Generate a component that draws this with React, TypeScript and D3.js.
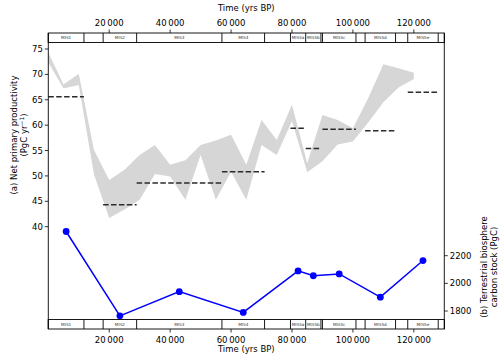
import React from "react";
import * as d3 from "d3";

// marine isotope stages (boxes along top and bottom)
const stageNames = ["MIS1", "MIS2", "MIS3", "MIS4", "MIS5a", "MIS5b", "MIS5c", "MIS5d", "MIS5e"];
const stageStart = [0, 18000, 29000, 57000, 79500, 84500, 90000, 104000, 118000];
const stageEnd = [11700, 29000, 57000, 71000, 84500, 89500, 101000, 114000, 128000];
const stageBounds = [0, 11700, 18000, 29000, 57000, 71000, 79500, 84500, 89500, 90000, 101000, 104000, 114000, 118000, 128000, 130000];

// mean NPP per stage (dashed lines)
const stageNpp = [65.6, 44.3, 48.6, 50.8, 59.4, 55.4, 59.2, 58.9, 66.5];

// carbon stock per stage (blue line)
const stockAge = [5850, 23500, 43000, 64000, 82000, 87000, 95500, 109000, 123000];
const stockValue = [2375, 1765, 1940, 1790, 2090, 2055, 2068, 1900, 2165];

// NPP range (grey band)
const bandAge = [0, 5000, 10000, 15000, 20000, 25000, 30000, 35000, 40000, 45000, 50000, 55000, 60000,
  65000, 70000, 75000, 80000, 85000, 90000, 95000, 100000, 105000, 110000, 115000, 120000];
const nppHigh = [74.3, 68.0, 70.1, 55.1, 49.2, 51.2, 54.1, 56.1, 52.2, 53.1, 56.1, 57.0, 58.1,
  52.2, 61.0, 57.1, 64.0, 52.5, 62.0, 61.0, 59.4, 65.3, 72.0, 71.2, 70.3];
const nppLow = [72.4, 67.2, 67.9, 50.3, 41.7, 43.4, 45.3, 50.4, 49.9, 45.3, 54.1, 45.3, 50.8,
  45.3, 56.1, 54.1, 60.8, 50.7, 52.9, 56.2, 56.8, 60.5, 64.5, 67.4, 69.1];

const timeTicks = [20000, 40000, 60000, 80000, 100000, 120000];
const nppTicks = [40, 45, 50, 55, 60, 65, 70, 75];
const stockTicks = [1800, 2000, 2200];

const W = 500, H = 359;
const top = 33, bottom = 329, left = 48.3, right = 444.3;
const stripH = 9.5;
const font = "DejaVu Sans, sans-serif";

export default function App() {
  const x = d3.scaleLinear().domain([0, 130000]).range([left, right]);
  const yL = d3.scaleLinear().domain([19.85, 78.15]).range([bottom, top]);
  const yR = d3.scaleLinear().domain([1670, 3810]).range([bottom, top]);

  const fmt = d3.formatLocale({ decimal: ".", thousands: "\u2009", grouping: [3], currency: ["", ""] }).format(",");

  const band = d3.area<number>()
    .x((d) => x(bandAge[d]))
    .y0((d) => yL(nppLow[d]))
    .y1((d) => yL(nppHigh[d]));
  const line = d3.line<number>()
    .x((d) => x(stockAge[d]))
    .y((d) => yR(stockValue[d]));
  const idx = (n: number) => d3.range(n);

  const strip = (y0: number, key: string) => (
    <g key={key}>
      <rect x={left} y={y0} width={right - left} height={stripH} fill="white" stroke="black" strokeWidth={0.9} />
      {stageBounds.map((b, i) => (
        <line key={i} x1={x(b)} x2={x(b)} y1={y0} y2={y0 + stripH} stroke="black" strokeWidth={0.9} />
      ))}
      {stageNames.map((s, i) => (
        <text key={s} x={x((stageStart[i] + stageEnd[i]) / 2)} y={y0 + stripH / 2} dy="0.35em"
          textAnchor="middle" fontSize={4.2} fill="#333">{s}</text>
      ))}
    </g>
  );

  return (
    <svg width={W} height={H} style={{ position: "absolute", left: 0, top: 0, background: "white" }}
      fontFamily={font}>
      <path d={band(idx(bandAge.length)) || ""} fill="#d6d6d6" />
      {stageNames.map((s, i) => (
        <line key={s} x1={x(stageStart[i])} x2={x(stageEnd[i])} y1={yL(stageNpp[i])} y2={yL(stageNpp[i])}
          stroke="#2b2b2b" strokeWidth={1.5} strokeDasharray="5.5,2.4" />
      ))}
      <path d={line(idx(stockAge.length)) || ""} fill="none" stroke="#0000ff" strokeWidth={1.5} />
      {stockAge.map((a, i) => (
        <circle key={i} cx={x(a)} cy={yR(stockValue[i])} r={3.4} fill="#0000ff" />
      ))}

      {/* spines */}
      <line x1={left} x2={left} y1={top} y2={bottom} stroke="black" strokeWidth={0.9} />
      <line x1={right} x2={right} y1={top} y2={bottom} stroke="black" strokeWidth={0.9} />
      {strip(top, "t")}
      {strip(bottom - stripH, "b")}

      {/* time axes */}
      {timeTicks.map((t) => (
        <g key={t}>
          <line x1={x(t)} x2={x(t)} y1={top} y2={top - 3.5} stroke="black" strokeWidth={0.8} />
          <text x={x(t)} y={25.5} textAnchor="middle" fontSize={8.5}>{fmt(t)}</text>
          <line x1={x(t)} x2={x(t)} y1={bottom} y2={bottom + 3.5} stroke="black" strokeWidth={0.8} />
          <text x={x(t)} y={342.5} textAnchor="middle" fontSize={8.5}>{fmt(t)}</text>
        </g>
      ))}
      <text x={(left + right) / 2} y={10.5} textAnchor="middle" fontSize={8.5}>Time (yrs BP)</text>
      <text x={(left + right) / 2} y={352} textAnchor="middle" fontSize={8.5}>Time (yrs BP)</text>

      {/* NPP axis */}
      {nppTicks.map((t) => (
        <g key={t}>
          <line x1={left} x2={left - 3.5} y1={yL(t)} y2={yL(t)} stroke="black" strokeWidth={0.8} />
          <text x={left - 5.5} y={yL(t)} dy="0.35em" textAnchor="end" fontSize={8.5}>{t}</text>
        </g>
      ))}
      <g transform="translate(16.5,135) rotate(-90)">
        <text textAnchor="middle" fontSize={8.5}>(a) Net primary productivity</text>
      </g>
      <g transform="translate(27,135) rotate(-90)">
        <text textAnchor="middle" fontSize={8.5}>(PgC yr<tspan fontSize={6} dy={-3.5}>−1</tspan><tspan dy={3.5}>)</tspan></text>
      </g>

      {/* carbon stock axis */}
      {stockTicks.map((t) => (
        <g key={t}>
          <line x1={right} x2={right + 3.5} y1={yR(t)} y2={yR(t)} stroke="black" strokeWidth={0.8} />
          <text x={right + 5.5} y={yR(t)} dy="0.35em" textAnchor="start" fontSize={8.5}>{t}</text>
        </g>
      ))}
      <g transform="translate(486.5,267) rotate(-90)">
        <text textAnchor="middle" fontSize={8.5}>(b) Terrestrial biosphere</text>
      </g>
      <g transform="translate(496.5,267) rotate(-90)">
        <text textAnchor="middle" fontSize={8.5}>carbon stock (PgC)</text>
      </g>
    </svg>
  );
}
